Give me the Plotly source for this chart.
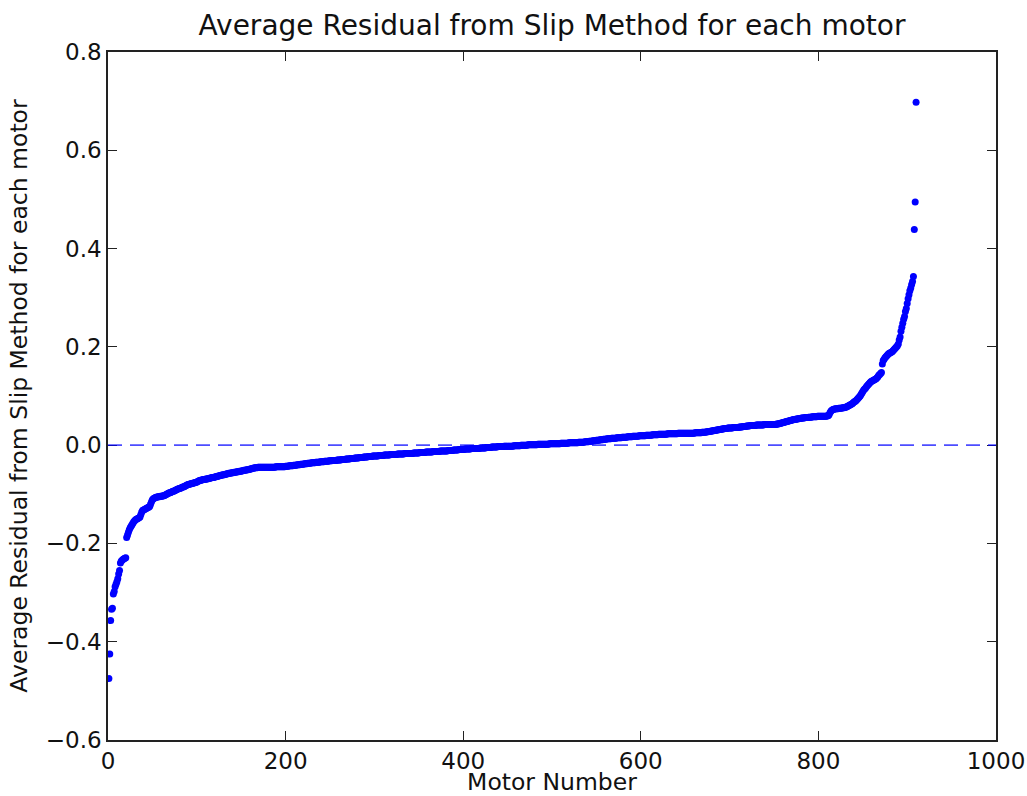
import plotly.graph_objects as go

# Average residual per motor (thousandths), sorted
res_1_100 = [
    -475, -425, -357, -334, -332, -303, -298, -288, -283, -278,
    -272, -262, -255, -240, -236, -234, -232, -231, -230, -229,
    -188, -183, -177, -172, -168, -165, -162, -159, -156, -154,
    -152, -151, -150, -149, -148, -146, -141, -136, -133, -132,
    -131, -130, -129, -128, -127, -126, -125, -120, -115, -111,
    -109, -108, -107, -106, -106, -105, -105, -105, -104, -104,
    -104, -103, -103, -102, -101, -100, -99, -98, -97, -97,
    -96, -95, -94, -94, -93, -92, -91, -90, -89, -88,
    -88, -87, -86, -85, -85, -84, -83, -82, -81, -80,
    -80, -79, -79, -78, -78, -77, -77, -76, -76, -75,
]
res_101_200 = [
    -74, -73, -72, -72, -71, -71, -70, -70, -70, -69,
    -69, -69, -68, -68, -67, -67, -66, -66, -66, -65,
    -65, -64, -64, -63, -63, -62, -62, -61, -61, -60,
    -60, -59, -59, -58, -58, -57, -57, -57, -56, -56,
    -56, -55, -55, -55, -54, -54, -54, -53, -53, -53,
    -52, -52, -51, -51, -51, -50, -50, -50, -49, -49,
    -48, -48, -47, -47, -46, -46, -46, -46, -45, -45,
    -45, -45, -45, -45, -45, -45, -45, -45, -45, -45,
    -45, -45, -45, -45, -45, -45, -45, -45, -44, -44,
    -44, -44, -44, -44, -44, -44, -44, -44, -44, -43,
]
res_201_300 = [
    -43, -43, -43, -42, -42, -42, -42, -42, -41, -41,
    -41, -41, -40, -40, -40, -40, -39, -39, -39, -39,
    -38, -38, -38, -38, -37, -37, -37, -37, -36, -36,
    -36, -36, -36, -35, -35, -35, -35, -35, -34, -34,
    -34, -34, -34, -33, -33, -33, -33, -33, -32, -32,
    -32, -32, -31, -31, -31, -31, -31, -30, -30, -30,
    -30, -30, -29, -29, -29, -29, -29, -28, -28, -28,
    -28, -28, -27, -27, -27, -27, -27, -26, -26, -26,
    -26, -26, -25, -25, -25, -25, -25, -24, -24, -24,
    -24, -24, -23, -23, -23, -23, -23, -22, -22, -22,
]
res_301_400 = [
    -22, -22, -22, -22, -21, -21, -21, -21, -21, -21,
    -20, -20, -20, -20, -20, -20, -20, -19, -19, -19,
    -19, -19, -19, -19, -19, -18, -18, -18, -18, -18,
    -18, -18, -18, -17, -17, -17, -17, -17, -17, -17,
    -17, -17, -17, -16, -16, -16, -16, -16, -16, -16,
    -15, -15, -15, -15, -15, -15, -15, -14, -14, -14,
    -14, -14, -14, -14, -14, -13, -13, -13, -13, -13,
    -13, -13, -13, -12, -12, -12, -12, -12, -12, -12,
    -12, -12, -11, -11, -11, -11, -11, -11, -10, -10,
    -10, -10, -10, -10, -9, -9, -9, -9, -9, -9,
]
res_401_500 = [
    -9, -8, -8, -8, -8, -8, -8, -8, -7, -7,
    -7, -7, -7, -7, -7, -7, -7, -7, -6, -6,
    -6, -6, -6, -6, -6, -5, -5, -5, -5, -5,
    -5, -4, -4, -4, -4, -4, -4, -4, -3, -3,
    -3, -3, -3, -3, -3, -2, -2, -2, -2, -2,
    -2, -2, -2, -2, -2, -2, -1, -1, -1, -1,
    -1, -1, -1, -1, 0, 0, 0, 0, 0, 0,
    0, 0, 1, 1, 1, 1, 1, 1, 1, 1,
    1, 1, 1, 2, 2, 2, 2, 2, 2, 2,
    2, 2, 2, 2, 2, 2, 3, 3, 3, 3,
]
res_501_600 = [
    3, 3, 3, 3, 3, 3, 3, 3, 3, 4,
    4, 4, 4, 4, 4, 4, 4, 4, 5, 5,
    5, 5, 5, 5, 5, 5, 5, 5, 5, 6,
    6, 6, 6, 6, 6, 6, 7, 7, 7, 7,
    7, 8, 8, 8, 8, 9, 9, 9, 9, 10,
    10, 10, 10, 11, 11, 11, 11, 12, 12, 12,
    12, 13, 13, 13, 13, 13, 14, 14, 14, 14,
    14, 14, 15, 15, 15, 15, 15, 15, 16, 16,
    16, 16, 16, 16, 17, 17, 17, 17, 17, 17,
    18, 18, 18, 18, 18, 18, 18, 19, 19, 19,
]
res_601_700 = [
    19, 19, 19, 19, 19, 20, 20, 20, 20, 20,
    20, 20, 21, 21, 21, 21, 21, 21, 21, 22,
    22, 22, 22, 22, 22, 22, 22, 22, 22, 23,
    23, 23, 23, 23, 23, 23, 23, 23, 23, 23,
    23, 24, 24, 24, 24, 24, 24, 24, 24, 24,
    24, 24, 24, 24, 24, 24, 24, 24, 24, 24,
    25, 25, 25, 25, 25, 25, 25, 25, 26, 26,
    26, 26, 26, 27, 27, 27, 28, 28, 29, 29,
    29, 30, 30, 30, 31, 31, 31, 32, 32, 32,
    33, 33, 33, 34, 34, 34, 34, 35, 35, 35,
]
res_701_800 = [
    35, 35, 35, 36, 36, 36, 36, 36, 36, 36,
    37, 37, 37, 37, 38, 38, 38, 38, 39, 39,
    39, 39, 40, 40, 40, 40, 40, 40, 40, 41,
    41, 41, 41, 41, 41, 41, 41, 41, 42, 42,
    42, 42, 42, 42, 42, 42, 42, 42, 42, 42,
    42, 42, 43, 43, 43, 44, 44, 45, 45, 46,
    46, 47, 47, 48, 48, 49, 49, 50, 50, 51,
    51, 52, 52, 52, 53, 53, 53, 54, 54, 54,
    55, 55, 55, 55, 56, 56, 56, 56, 57, 57,
    57, 57, 58, 58, 58, 58, 58, 58, 59, 59,
]
res_801_910 = [
    59, 59, 59, 59, 59, 59, 59, 59, 59, 60,
    60, 62, 66, 69, 71, 72, 73, 73, 74, 74,
    74, 74, 75, 75, 75, 75, 76, 76, 76, 77,
    77, 78, 79, 80, 81, 82, 83, 84, 86, 88,
    89, 90, 92, 94, 96, 98, 100, 103, 106, 109,
    112, 114, 116, 119, 121, 123, 125, 127, 129, 130,
    131, 132, 133, 134, 135, 137, 139, 142, 144, 146,
    148, 165, 172, 175, 178, 180, 182, 184, 186, 187,
    188, 189, 190, 192, 194, 196, 198, 200, 202, 206,
    214, 220, 232, 240, 248, 256, 262, 272, 278, 288,
    298, 306, 314, 320, 327, 333, 343, 439, 495, 698,
]

residual_milli = (res_1_100 + res_101_200 + res_201_300 + res_301_400 + res_401_500
                  + res_501_600 + res_601_700 + res_701_800 + res_801_910)
residuals = [v / 1000.0 for v in residual_milli]
motor_numbers = list(range(1, len(residuals) + 1))

x_ticks = [0, 200, 400, 600, 800, 1000]
y_ticks = [-0.6, -0.4, -0.2, 0.0, 0.2, 0.4, 0.6, 0.8]
y_tick_text = [f"{v:.1f}".replace("-", "\u2212") for v in y_ticks]

FONT = "DejaVu Sans"

fig = go.Figure()
fig.add_trace(go.Scatter(
    x=motor_numbers, y=residuals, mode="markers",
    marker=dict(color="#0000ff", size=7, line=dict(width=0)),
    showlegend=False, hoverinfo="x+y",
))
fig.add_shape(type="line", xref="paper", yref="y", x0=0, x1=1, y0=0, y1=0,
              line=dict(color="rgba(0,0,255,0.7)", width=1.8, dash="14px,8px"), layer="above")

axis_common = dict(
    showgrid=False, zeroline=False, showline=True, linecolor="#222222", linewidth=1.5,
    mirror="allticks", ticks="inside", ticklen=9, tickwidth=1.2, tickcolor="#222222",
    tickfont=dict(family=FONT, size=23, color="#111111"), automargin=False,
)

fig.update_layout(
    width=1027, height=796,
    margin=dict(l=108, r=31, t=52, b=56),
    paper_bgcolor="white", plot_bgcolor="white",
    font=dict(family=FONT, color="#111111"),
    title=dict(text="Average Residual from Slip Method for each motor",
               font=dict(family=FONT, size=28, color="#111111"),
               x=0.5, xref="paper", xanchor="center", y=0.968, yanchor="middle"),
    xaxis=dict(range=[0, 1000], tickvals=x_ticks, ticktext=[str(t) for t in x_ticks],
               title=dict(text="Motor Number", font=dict(family=FONT, size=23.5), standoff=2),
               **axis_common),
    yaxis=dict(range=[-0.6, 0.8], tickvals=y_ticks, ticktext=y_tick_text,
               title=dict(text="Average Residual from Slip Method for each motor",
                          font=dict(family=FONT, size=23.5), standoff=12),
               **axis_common),
)

fig.write_html("out.html")
